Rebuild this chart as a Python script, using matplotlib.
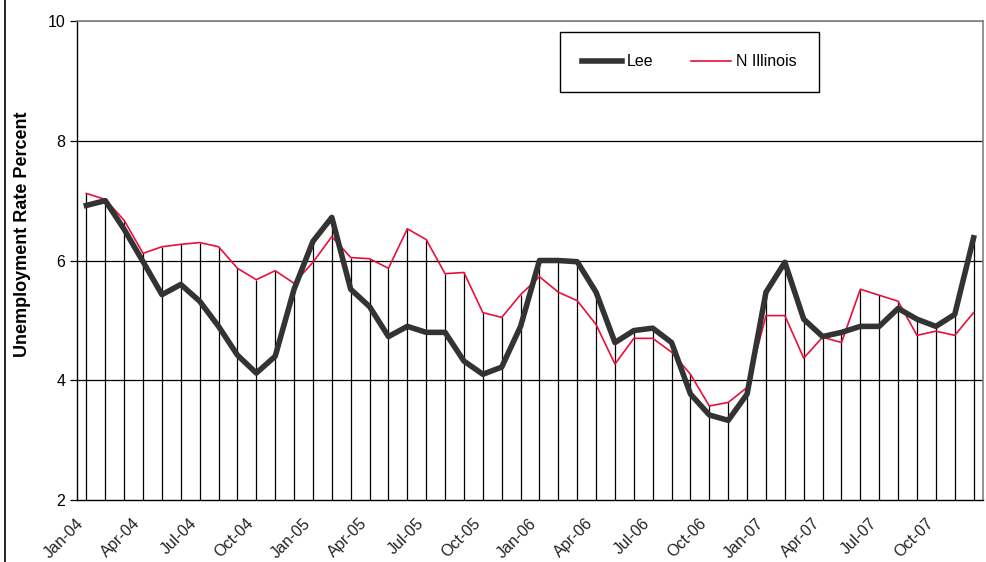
import numpy as np
import matplotlib.pyplot as plt
import matplotlib.transforms as mtransforms
from matplotlib.lines import Line2D

plt.rcParams['font.family'] = ['Liberation Sans', 'DejaVu Sans']

months = ['Jan', 'Feb', 'Mar', 'Apr', 'May', 'Jun',
          'Jul', 'Aug', 'Sep', 'Oct', 'Nov', 'Dec']
dates = ['%s-%02d' % (m, y) for y in (4, 5, 6, 7) for m in months]

lee = [6.92, 7.00, 6.52, 5.98, 5.43, 5.60, 5.32, 4.90, 4.42, 4.12, 4.40, 5.52,
       6.32, 6.72, 5.52, 5.23, 4.73, 4.90, 4.80, 4.80, 4.32, 4.10, 4.22, 4.90,
       6.00, 6.00, 5.98, 5.47, 4.63, 4.83, 4.87, 4.63, 3.77, 3.42, 3.33, 3.77,
       5.47, 5.97, 5.02, 4.73, 4.80, 4.90, 4.90, 5.20, 5.02, 4.90, 5.10, 6.38]
nil = [7.12, 7.02, 6.67, 6.12, 6.23, 6.27, 6.30, 6.23, 5.87, 5.68, 5.83, 5.62,
       5.97, 6.40, 6.05, 6.03, 5.87, 6.53, 6.35, 5.78, 5.80, 5.13, 5.05, 5.43,
       5.73, 5.47, 5.33, 4.93, 4.27, 4.70, 4.70, 4.47, 4.10, 3.57, 3.63, 3.88,
       5.08, 5.08, 4.37, 4.72, 4.63, 5.52, 5.42, 5.32, 4.75, 4.82, 4.75, 5.13]

x = np.arange(len(dates))
top = np.maximum(lee, nil)

fig = plt.figure(figsize=(9.87, 5.62), dpi=100)
ax = fig.add_axes([0.078, 0.1103, 0.918, 0.8523])

# drop lines from the axis up to the higher series
ax.vlines(x, 2, top, color='black', lw=0.9, zorder=1)
for v in (4, 6, 8):
    ax.axhline(v, color='black', lw=0.9, zorder=1)
ax.axhline(10, color='#808080', lw=1.2, zorder=1)

ax.plot(x, lee, color='#333333', lw=4, solid_joinstyle='round',
        label='Lee', zorder=3)
ax.plot(x, nil, color='#e8103a', lw=1.2, label='N Illinois', zorder=2)

ax.set_xlim(-0.5, len(dates) - 0.5)
ax.set_ylim(2, 10)
ax.set_yticks([2, 4, 6, 8, 10])
ax.tick_params(axis='y', labelsize=11.5, length=5, width=0.9, direction='out')
ax.set_xticks(x[::3])
ax.set_xticklabels(dates[::3], rotation=45, ha='right', va='center',
                   rotation_mode='anchor', fontsize=11.5, color='#222222')
ax.tick_params(axis='x', length=0, pad=15)
shift = mtransforms.ScaledTranslation(-5 / 100, 0, fig.dpi_scale_trans)
for lbl in ax.get_xticklabels():
    lbl.set_transform(lbl.get_transform() + shift)

for s in ('top', 'right'):
    ax.spines[s].set_color('#808080')
    ax.spines[s].set_linewidth(1.2)
ax.spines['left'].set_linewidth(1.0)
ax.spines['bottom'].set_linewidth(1.0)

ax.set_ylabel('Unemployment Rate Percent', fontsize=13, fontweight='bold')
ax.yaxis.set_label_coords(-0.051, 0.555)

leg = ax.legend(loc='upper left', bbox_to_anchor=(0.533, 0.852, 0.286, 0.125),
                mode='expand', ncol=2, fontsize=11.5, frameon=True,
                fancybox=False, edgecolor='black', framealpha=1,
                borderpad=1.4, handlelength=2.5, handletextpad=0.3,
                columnspacing=3.0, borderaxespad=0)
leg.get_frame().set_linewidth(1.0)

fig.add_artist(Line2D([0.005, 0.005], [0, 1], color='black', lw=1.2,
                      transform=fig.transFigure))

fig.savefig('out.png', dpi=100)
